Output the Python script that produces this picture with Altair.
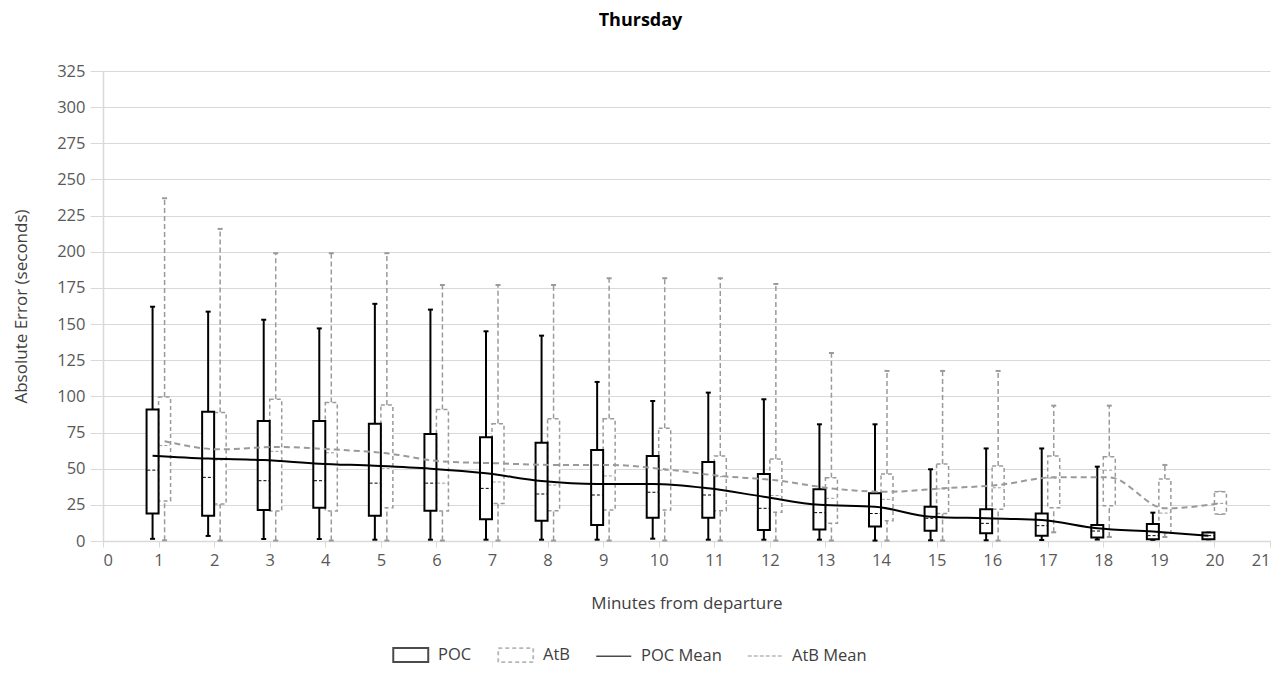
import altair as alt
import pandas as pd

minutes = list(range(1, 21))

poc_min = [1.5, 3.5, 1.4, 1.4, 0.9, 0.9, 0.9, 0.9, 0.9, 1.6, 0.9, 0.9, 0.9, 0.3, 0.5, 0.5, 0.7, 1.0, 0.8, 1.2]
poc_q1 = [19, 17.5, 21.4, 23, 17.5, 21, 15, 14, 11, 16, 16, 7.6, 8, 10, 7.1, 5.3, 3.7, 2.5, 1.2, 1.2]
poc_med = [49, 44, 41.7, 41.7, 40, 40, 36.4, 32.5, 31.8, 33.7, 31.8, 22.6, 19.6, 19, 15.7, 12.2, 10.6, 6.9, 3.7, 3.7]
poc_q3 = [91, 89.4, 83, 83, 81, 74, 71.7, 68, 63, 58.8, 54.6, 46.3, 35.7, 33, 23.7, 22, 19, 11, 11.8, 5.8]
poc_max = [162, 158.6, 153, 147, 164, 160, 145, 142, 110, 96.8, 102.6, 98, 80.7, 80.7, 49.6, 64, 64, 51.4, 19.6, 5.8]
poc_mean = [59, 57, 56, 53.5, 52, 50, 46.8, 41.5, 39.4, 39.4, 36.4, 30.6, 25, 23.7, 16.8, 15.7, 14.5, 8.8, 6.5, 3.7]

atb_min = [0.5, 0.3, 0.3, 0.3, 0.3, 0.3, 0.3, 0.3, 0.3, 0.3, 0.3, 0.3, 0.3, 0.3, 0.3, 0.3, 6, 2.8, 2.8, 18.7]
atb_q1 = [27.7, 25.6, 20.7, 20.7, 23, 20.7, 26, 21, 21.4, 21.4, 21, 19.8, 12.2, 14, 19, 22, 23, 24.4, 5.3, 18.7]
atb_med = [66, 56, 62, 61, 50, 40, 40.8, 38.7, 45, 49, 44.5, 31.4, 29.5, 28.8, 36, 36.8, 43.5, 49, 19.3, 26]
atb_q3 = [99.6, 88.8, 98, 95.7, 94, 91, 81, 84.6, 84.6, 78, 58.8, 56.7, 43.8, 46.3, 53.3, 51.9, 58.8, 58.3, 42.9, 34]
atb_max = [237, 215.8, 199, 199, 199, 177, 177, 177, 181.7, 181.7, 181.7, 177.7, 130, 117.6, 117.6, 117.6, 93.6, 93.6, 52.6, 34]
atb_mean = [69, 63.4, 65, 63.4, 60.6, 55, 53.7, 52.6, 52.6, 49.6, 45, 42, 36.4, 34, 36.4, 38.7, 44, 44, 22.6, 26]

legend_labels = ["POC", "AtB", "POC Mean", "AtB Mean"]
y_ticks = list(range(0, 326, 25))
x_ticks = list(range(0, 22))

FONT = "Open Sans"
GREY = "#9a9a9a"

poc = pd.DataFrame({"minute": minutes, "lo": poc_min, "q1": poc_q1, "med": poc_med,
                    "q3": poc_q3, "hi": poc_max, "mean": poc_mean})
atb = pd.DataFrame({"minute": minutes, "lo": atb_min, "q1": atb_q1, "med": atb_med,
                    "q3": atb_q3, "hi": atb_max, "mean": atb_mean})
legend_df = pd.DataFrame({"legend": legend_labels, "minute": [5, 6, 7, 8], "v": [-50, -50, -50, -50]})

xs = alt.Scale(domain=[0, 21], nice=False, zero=False)
ys = alt.Scale(domain=[0, 325], nice=False)

xaxis = alt.Axis(values=x_ticks, title="Minutes from departure", grid=False, format="d")
yaxis = alt.Axis(values=y_ticks, title="Absolute Error (seconds)", grid=True)


def X(field):
    return alt.X(field, scale=xs, axis=xaxis)


def Y(field):
    return alt.Y(field, scale=ys, axis=yaxis)


def series_layers(df, off, color, stroke_w, box_dash, whisk_dash, med_dash, mean_dash, mean_w):
    base = alt.Chart(df).transform_calculate(
        xc=f"datum.minute + ({off})",
        xl=f"datum.minute + ({off}) - 0.108",
        xr=f"datum.minute + ({off}) + 0.108",
        cl=f"datum.minute + ({off}) - 0.045",
        cr=f"datum.minute + ({off}) + 0.045",
        ml=f"datum.minute + ({off}) - 0.095",
        mr=f"datum.minute + ({off}) + 0.095",
    )
    wkw = dict(color=color, strokeWidth=stroke_w)
    if whisk_dash:
        wkw["strokeDash"] = whisk_dash
    lower = base.mark_rule(**wkw).encode(x=X("xc:Q"), y=Y("lo:Q"), y2="q1:Q")
    upper = base.mark_rule(**wkw).encode(x=X("xc:Q"), y=Y("q3:Q"), y2="hi:Q")
    cap_top = base.mark_rule(color=color, strokeWidth=2).encode(x=X("cl:Q"), x2="cr:Q", y=Y("hi:Q"))
    cap_bot = base.mark_rule(color=color, strokeWidth=2).encode(x=X("cl:Q"), x2="cr:Q", y=Y("lo:Q"))
    bkw = dict(fill="white", stroke=color, strokeWidth=stroke_w)
    if box_dash:
        bkw["strokeDash"] = box_dash
    box = base.mark_rect(**bkw).encode(x=X("xl:Q"), x2="xr:Q", y=Y("q1:Q"), y2="q3:Q")
    med = base.mark_rule(color=color, strokeWidth=1, strokeDash=med_dash).encode(
        x=X("ml:Q"), x2="mr:Q", y=Y("med:Q"))
    lkw = dict(color=color, strokeWidth=mean_w, interpolate="monotone")
    if mean_dash:
        lkw["strokeDash"] = mean_dash
    mean = base.mark_line(**lkw).encode(x=X("xc:Q"), y=Y("mean:Q"))
    return [lower, upper, cap_top, cap_bot, box, med], mean


poc_layers, poc_mean_line = series_layers(poc, -0.108, "#000000", 2, None, None, [3, 2], None, 2)
atb_layers, atb_mean_line = series_layers(atb, 0.108, GREY, 1.5, [4, 3], [5, 3], [3, 2], [6, 4], 2)

# legend symbols: custom paths drawn from the left edge of the symbol slot
RECT = "M-1,-0.8H3V0.8H-1Z"
LINE = "M-1,0H3"
legend_layer = alt.Chart(legend_df).mark_point(filled=False, clip=True, size=306).encode(
    x=X("minute:Q"),
    y=Y("v:Q"),
    shape=alt.Shape("legend:N", scale=alt.Scale(domain=legend_labels, range=[RECT, RECT, LINE, LINE])),
    stroke=alt.Stroke("legend:N", scale=alt.Scale(
        domain=legend_labels, range=["#000000", GREY, "#000000", GREY])),
    strokeDash=alt.StrokeDash("legend:N", scale=alt.Scale(
        domain=legend_labels, range=[[1, 0], [4, 3], [1, 0], [4, 2]])),
    strokeWidth=alt.StrokeWidth("legend:N", scale=alt.Scale(
        domain=legend_labels, range=[2, 1.5, 2, 2])),
)

chart = alt.layer(
    *atb_layers, *poc_layers, atb_mean_line, poc_mean_line, legend_layer
).properties(
    width=1167,
    height=470,
    title=alt.TitleParams("Thursday", fontSize=18, fontWeight="bold", font=FONT,
                          color="#000000", anchor="middle", dx=-46, offset=33),
    autosize=alt.AutoSizeParams(type="none"),
    padding={"left": 95, "top": 63, "right": 3, "bottom": 126},
).configure_view(
    stroke=None
).configure_axis(
    labelFont=FONT, titleFont=FONT, labelFontSize=16.5, titleFontSize=17,
    labelColor="#595959", titleColor="#404040", titleFontWeight="normal",
    gridColor="#d9d9d9", domainColor="#d9d9d9", tickColor="#d9d9d9",
    gridWidth=1, domainWidth=1.5, tickWidth=1,
).configure_axisX(
    tickSize=6, labelPadding=5, titlePadding=27,
).configure_axisY(
    tickSize=13, labelPadding=5, titlePadding=26,
).configure_legend(
    orient="none", legendX=289, legendY=574, direction="horizontal", title=None,
    labelFont=FONT, labelFontSize=16.5, labelColor="#404040", labelOffset=26,
    columnPadding=22, symbolSize=306, symbolFillColor="transparent",
)

chart.save("out.html", embed_options={"renderer": "svg", "actions": False})
